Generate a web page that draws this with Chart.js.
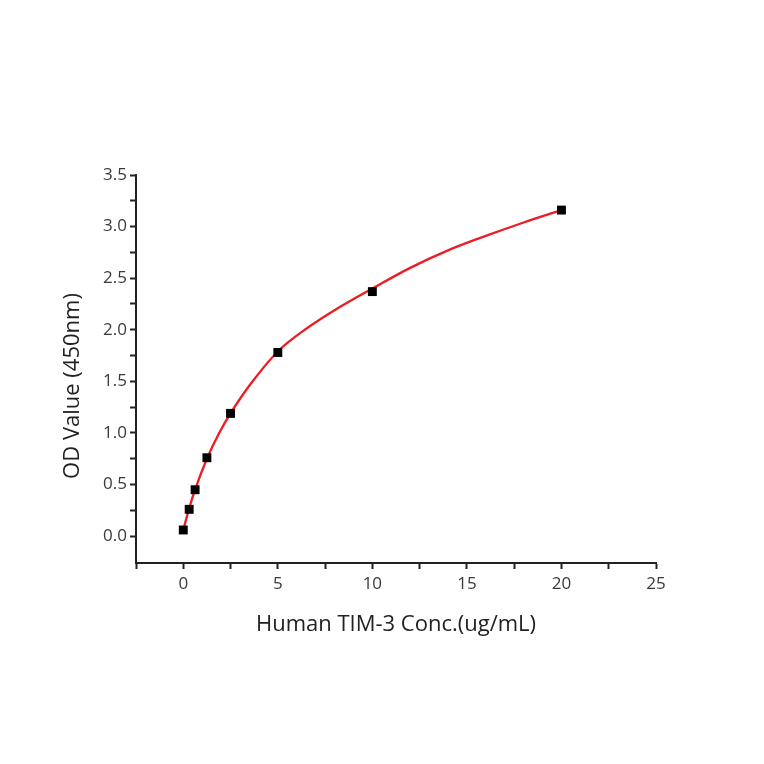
<!DOCTYPE html>
<html>
<head>
<meta charset="utf-8">
<script src="https://cdn.jsdelivr.net/npm/chart.js@4/dist/chart.umd.min.js"></script>
<style>
  html, body { margin: 0; padding: 0; background: #fff; }
  #wrap { width: 764px; height: 764px; }
</style>
</head>
<body>
<div id="wrap"><canvas id="c" width="764" height="764"></canvas></div>
<script>
// Measured points
const concentrations = [0, 0.3125, 0.625, 1.25, 2.5, 5, 10, 20];
const odValues = [0.06, 0.26, 0.45, 0.76, 1.19, 1.78, 2.37, 3.16];
// Fitted curve
const fitX = [0, 0.3125, 0.625, 1.25, 1.9, 2.5, 3.5, 5, 6.5, 8, 10, 12, 14, 16, 18, 20];
const fitY = [0.06, 0.27, 0.45, 0.75, 1.00, 1.19, 1.46, 1.79, 2.01, 2.19, 2.40, 2.60, 2.77, 2.91, 3.04, 3.16];
// Axis ticks
const xTicks = [-2.5, 0, 2.5, 5, 7.5, 10, 12.5, 15, 17.5, 20, 22.5, 25];
const xLabelTicks = [0, 5, 10, 15, 20, 25];
const yTicks = [0, 0.25, 0.5, 0.75, 1, 1.25, 1.5, 1.75, 2, 2.25, 2.5, 2.75, 3, 3.25, 3.5];
const yLabelTicks = [0, 0.5, 1, 1.5, 2, 2.5, 3, 3.5];
const xTitle = 'Human TIM-3 Conc.(ug/mL)';
const yTitle = 'OD Value (450nm)';

const FONT = "'Open Sans', 'Liberation Sans', sans-serif";
const isLabel = (arr, v) => arr.some(t => Math.abs(t - v) < 1e-9);

// Y-axis title drawn slightly below the axis centre, as in the reference
const yTitlePlugin = {
  id: 'yTitlePlugin',
  afterDraw(chart) {
    const ctx = chart.ctx;
    ctx.save();
    ctx.translate(73, 386);
    ctx.rotate(-Math.PI / 2);
    ctx.font = "22px " + FONT;
    ctx.fillStyle = '#222';
    ctx.textAlign = 'center';
    ctx.textBaseline = 'middle';
    ctx.fillText(yTitle, 0, 0);
    ctx.restore();
  }
};

new Chart(document.getElementById('c'), {
  type: 'scatter',
  data: {
    datasets: [
      {
        label: 'points',
        data: concentrations.map((x, i) => ({ x: x, y: odValues[i] })),
        pointStyle: 'rect',
        pointRadius: 6.3,
        pointHoverRadius: 6.3,
        backgroundColor: '#000',
        borderColor: '#000',
        borderWidth: 0,
        showLine: false,
        order: 0
      },
      {
        label: 'fit',
        data: fitX.map((x, i) => ({ x: x, y: fitY[i] })),
        showLine: true,
        borderColor: 'rgb(236,28,36)',
        borderWidth: 2.3,
        pointRadius: 0,
        cubicInterpolationMode: 'monotone',
        fill: false,
        order: 1
      }
    ]
  },
  plugins: [yTitlePlugin],
  options: {
    responsive: false,
    animation: false,
    events: [],
    layout: { padding: { left: 0, right: 108, top: 175, bottom: 0 } },
    plugins: { legend: { display: false }, tooltip: { enabled: false } },
    scales: {
      x: {
        type: 'linear',
        min: -2.5,
        max: 25,
        afterBuildTicks: (axis) => { axis.ticks = xTicks.map(v => ({ value: v })); },
        afterFit: (axis) => { axis.height = 201; },
        border: { display: true, color: '#222', width: 2 },
        grid: { display: true, drawOnChartArea: false, drawTicks: true, tickLength: 6, tickColor: '#222', tickWidth: 2 },
        ticks: {
          autoSkip: false,
          maxRotation: 0,
          padding: 5,
          color: '#3a3a3a',
          font: { family: FONT, size: 17 },
          callback: (v) => isLabel(xLabelTicks, v) ? String(v) : ''
        },
        title: {
          display: true,
          text: xTitle,
          color: '#222',
          font: { family: FONT, size: 22 },
          padding: { top: 0, bottom: 126 }
        }
      },
      y: {
        type: 'linear',
        min: -0.26,
        max: 3.5,
        afterBuildTicks: (axis) => { axis.ticks = yTicks.map(v => ({ value: v })); },
        afterFit: (axis) => { axis.width = 136; },
        border: { display: true, color: '#222', width: 2 },
        grid: { display: true, drawOnChartArea: false, drawTicks: true, tickLength: 6, tickColor: '#222', tickWidth: 2 },
        ticks: {
          autoSkip: false,
          padding: 3,
          color: '#3a3a3a',
          font: { family: FONT, size: 17 },
          callback: (v) => isLabel(yLabelTicks, v) ? Number(v).toFixed(1) : ''
        },
        title: { display: false }
      }
    }
  }
});
</script>
</body>
</html>
